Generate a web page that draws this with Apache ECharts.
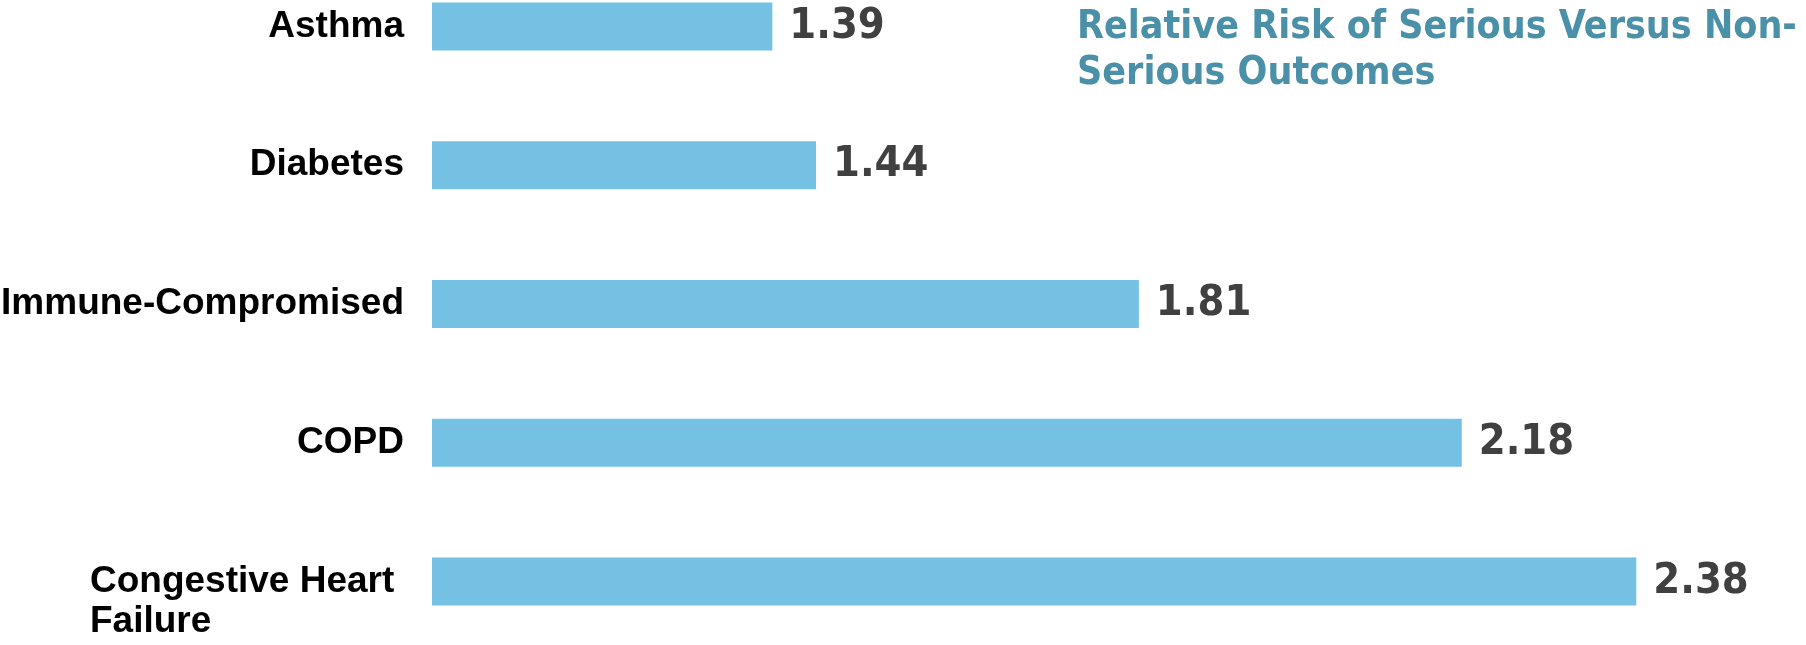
<!DOCTYPE html>
<html>
<head>
<meta charset="utf-8">
<title>Relative Risk</title>
<script src="https://cdn.jsdelivr.net/npm/echarts@6/dist/echarts.min.js"></script>
<style>
html, body { margin: 0; padding: 0; background: #fff; }
#container { width: 1806px; height: 645px; }
</style>
</head>
<body>
<div id="container"></div>
<script>
// data
var categories = ['Asthma', 'Diabetes', 'Immune-Compromised', 'COPD', 'Congestive Heart Failure'];
var riskValues = [1.39, 1.44, 1.81, 2.18, 2.38];
var titleText = 'Relative Risk of Serious Versus Non-\nSerious Outcomes';

var myChart = echarts.init(document.getElementById('container'));

var option = {
    animation: false,
    title: {
        text: titleText,
        left: 1072,
        top: 0,
        textStyle: {
            fontFamily: 'DejaVu Sans Condensed, DejaVu Sans',
            fontWeight: 'bold',
            fontSize: 39,
            lineHeight: 46,
            color: '#4A90A8'
        }
    },
    grid: {
        left: 432,
        top: -43,
        width: 1309,
        height: 694,
        outerBoundsMode: 'none',
        containLabel: false
    },
    xAxis: {
        type: 'value',
        min: 1,
        max: 2.5,
        show: false
    },
    yAxis: {
        type: 'category',
        inverse: true,
        data: categories,
        axisLine: { show: false },
        axisTick: { show: false },
        axisLabel: {
            margin: 28,
            fontFamily: 'Liberation Sans, Arial',
            fontWeight: 'bold',
            fontSize: 37,
            color: '#000',
            formatter: function (v) {
                // long label wraps, left aligned, first line at the bar
                if (v === 'Congestive Heart Failure') {
                    return '{s| }\n{w|Congestive Heart}\n{w|Failure}';
                }
                return v;
            },
            rich: {
                s: { height: 40, width: 314, fontSize: 10 },
                w: {
                    width: 314,
                    align: 'left',
                    lineHeight: 40,
                    fontFamily: 'Liberation Sans, Arial',
                    fontWeight: 'bold',
                    fontSize: 37,
                    color: '#000'
                }
            }
        }
    },
    series: [{
        type: 'bar',
        data: riskValues,
        barWidth: 48,
        itemStyle: { color: '#74C1E3' },
        label: {
            show: true,
            position: 'right',
            distance: 17,
            fontFamily: 'DejaVu Sans Condensed, DejaVu Sans',
            fontWeight: 'bold',
            fontSize: 43,
            color: '#404040',
            formatter: function (p) { return p.value.toFixed(2); }
        }
    }]
};

myChart.setOption(option);
</script>
</body>
</html>
